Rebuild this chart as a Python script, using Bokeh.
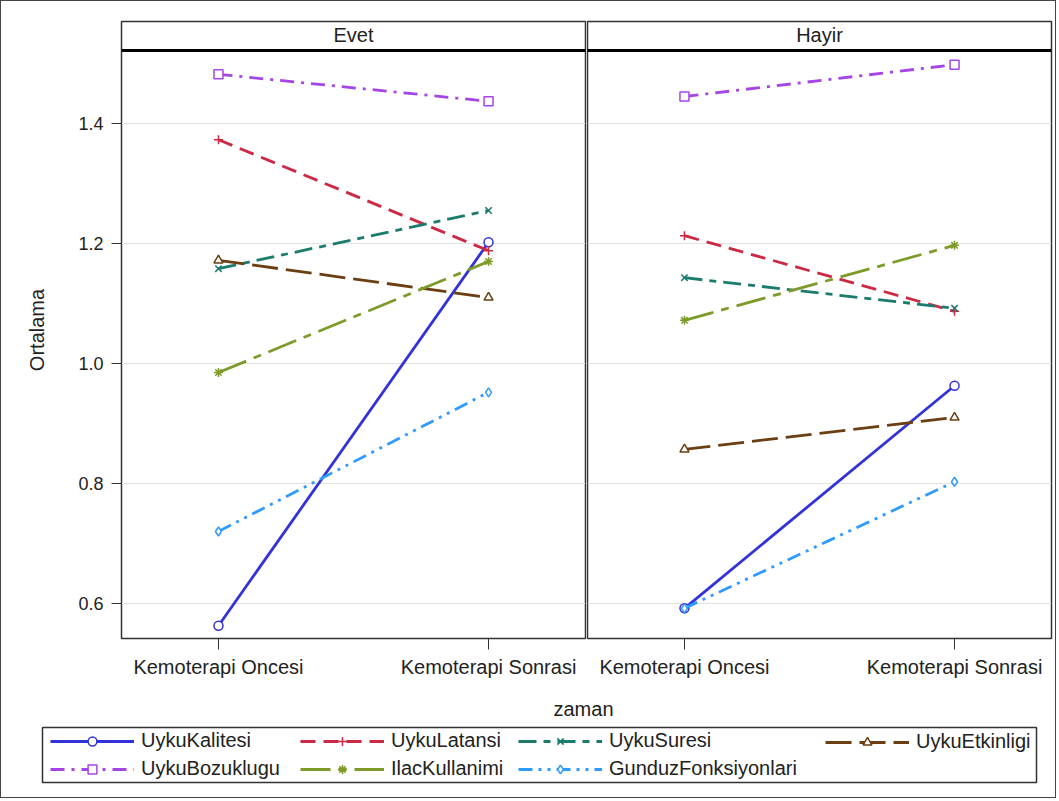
from bokeh.plotting import figure
from bokeh.models import (Range1d, FixedTicker, Span, Label, Legend, LegendItem,
                          PrintfTickFormatter)
from bokeh.layouts import row, column
from bokeh.embed import file_html
from bokeh.resources import INLINE

# ---------------- data ----------------
zaman = ["Kemoterapi Oncesi", "Kemoterapi Sonrasi"]
panels = ["Evet", "Hayir"]
series = ["UykuKalitesi", "UykuLatansi", "UykuSuresi", "UykuEtkinligi",
          "UykuBozuklugu", "IlacKullanimi", "GunduzFonksiyonlari"]

evet_UykuKalitesi = [0.563, 1.202]
evet_UykuLatansi = [1.373, 1.188]
evet_UykuSuresi = [1.158, 1.255]
evet_UykuEtkinligi = [1.172, 1.110]
evet_UykuBozuklugu = [1.482, 1.437]
evet_IlacKullanimi = [0.985, 1.170]
evet_GunduzFonksiyonlari = [0.720, 0.952]

hayir_UykuKalitesi = [0.592, 0.963]
hayir_UykuLatansi = [1.213, 1.087]
hayir_UykuSuresi = [1.143, 1.092]
hayir_UykuEtkinligi = [0.857, 0.910]
hayir_UykuBozuklugu = [1.445, 1.498]
hayir_IlacKullanimi = [1.072, 1.197]
hayir_GunduzFonksiyonlari = [0.592, 0.803]

y_ticks = [0.6, 0.8, 1.0, 1.2, 1.4]

values = {
    "Evet": [evet_UykuKalitesi, evet_UykuLatansi, evet_UykuSuresi, evet_UykuEtkinligi,
             evet_UykuBozuklugu, evet_IlacKullanimi, evet_GunduzFonksiyonlari],
    "Hayir": [hayir_UykuKalitesi, hayir_UykuLatansi, hayir_UykuSuresi, hayir_UykuEtkinligi,
              hayir_UykuBozuklugu, hayir_IlacKullanimi, hayir_GunduzFonksiyonlari],
}

# ---------------- styles ----------------
colors = ["#3232D9", "#CC2A44", "#1B7C6E", "#6B3F12", "#A645E5", "#7D9B29", "#2F9BFF"]
dashes = ["solid", "15 8", "18 7 7 7", "26 8", "14 7 3 7", "30 8 8 8", "14 6 3 6 3 6"]
markers = ["circle", "cross", "x", "triangle", "square", "asterisk", "diamond"]
FONT = "Liberation Sans"
TXT = "#222222"
NAN = float("nan")

y_range = Range1d(0.5417, 1.57)
header_line_y = 1.5217
header_text_y = 1.5467
x_idx = list(range(len(zaman)))
X_START, X_END = -0.359, 1.359


def open_fill(m):
    return "white" if m in ("circle", "square", "triangle", "diamond") else None


def make_panel(name, vals, left):
    p = figure(frame_width=464, frame_height=617,
               min_border_left=120 if left else 1, min_border_right=1 if left else 4,
               min_border_top=20, min_border_bottom=50,
               x_range=Range1d(X_START, X_END), y_range=y_range,
               y_axis_location="left" if left else None,
               toolbar_location=None, output_backend="svg")
    p.outline_line_color = "#333333"
    p.outline_line_width = 1.5
    p.background_fill_color = "white"
    p.border_fill_color = "white"
    p.xgrid.visible = False
    p.ygrid.ticker = FixedTicker(ticks=y_ticks)
    p.ygrid.grid_line_color = "#E2E2E2"

    xa = p.xaxis[0]
    xa.ticker = FixedTicker(ticks=x_idx)
    xa.major_label_overrides = {i: z for i, z in zip(x_idx, zaman)}
    xa.major_tick_out = 11
    xa.major_tick_in = 0
    xa.minor_tick_line_color = None
    xa.major_label_standoff = 6
    xa.major_label_text_font = FONT
    xa.major_label_text_font_size = "20px"
    xa.major_label_text_color = TXT
    xa.axis_line_color = "#333333"
    xa.major_tick_line_color = "#333333"

    if left:
        ya = p.yaxis[0]
        ya.ticker = FixedTicker(ticks=y_ticks)
        ya.formatter = PrintfTickFormatter(format="%.1f")
        ya.major_tick_out = 10
        ya.major_tick_in = 0
        ya.minor_tick_line_color = None
        ya.major_label_standoff = 8
        ya.major_label_text_font = FONT
        ya.major_label_text_font_size = "18px"
        ya.major_label_text_color = TXT
        ya.axis_line_color = "#333333"
        ya.major_tick_line_color = "#333333"
        ya.axis_label = "Ortalama"
        ya.axis_label_text_font = FONT
        ya.axis_label_text_font_size = "20px"
        ya.axis_label_text_font_style = "normal"
        ya.axis_label_text_color = TXT
        ya.axis_label_standoff = 27

    for s, v, c, d, m in zip(series, vals, colors, dashes, markers):
        p.line(x=x_idx, y=v, line_color=c, line_width=2.8, line_dash=d)
        p.scatter(x=x_idx, y=v, marker=m, size=9, line_color=c, line_width=1.5,
                  fill_color=open_fill(m))

    # header strip
    p.add_layout(Span(location=header_line_y, dimension="width",
                      line_color="black", line_width=3))
    p.add_layout(Label(x=(X_START + X_END) / 2, y=header_text_y, text=name,
                       text_align="center", text_baseline="middle",
                       text_font=FONT, text_font_size="20px", text_color=TXT))
    return p


left = make_panel(panels[0], values["Evet"], True)
right = make_panel(panels[1], values["Hayir"], False)

# ---------------- legend figure ----------------
lf = figure(frame_width=994, frame_height=55, min_border_left=41, min_border_right=19,
            min_border_top=38, min_border_bottom=15,
            x_range=Range1d(0, 1), y_range=Range1d(0, 1),
            x_axis_location=None, y_axis_location=None,
            toolbar_location=None, output_backend="svg")
lf.grid.visible = False
lf.outline_line_color = "#333333"
lf.outline_line_width = 1.5
lf.border_fill_color = "white"
lf.title.text = "zaman"
lf.title.align = "left"
lf.title.offset = 511
lf.title.standoff = 15
lf.title.text_font = FONT
lf.title.text_font_size = "20px"
lf.title.text_font_style = "normal"
lf.title.text_color = TXT

items = []
for s, c, d, m in zip(series, colors, dashes, markers):
    lr = lf.line(x=[NAN, NAN], y=[NAN, NAN], line_color=c, line_width=2.8, line_dash=d)
    sr = lf.scatter(x=[NAN], y=[NAN], marker=m, size=9, line_color=c, line_width=1.5,
                    fill_color=open_fill(m))
    items.append(LegendItem(label=s, renderers=[lr, sr], index=0))

# columns: (UykuKalitesi, UykuBozuklugu), (UykuLatansi, IlacKullanimi),
#          (UykuSuresi, GunduzFonksiyonlari), (UykuEtkinligi)
col_groups = [[0, 4], [1, 5], [2, 6], [3]]
col_x = [8, 258, 476, 783]
for grp, cx in zip(col_groups, col_x):
    lg = Legend(items=[items[i] for i in grp],
                location=(cx, 2 if len(grp) == 2 else 29),
                orientation="vertical", padding=0, margin=0, spacing=5,
                glyph_width=84, glyph_height=22, label_height=22,
                label_standoff=7, label_text_font=FONT, label_text_font_size="20px",
                label_text_color=TXT, label_text_baseline="middle",
                border_line_color=None, background_fill_alpha=0)
    lf.add_layout(lg, "center")

layout = column(row(left, right), lf, styles={"border": "1px solid #444444"})

open("out.html", "w").write(file_html(layout, INLINE))
